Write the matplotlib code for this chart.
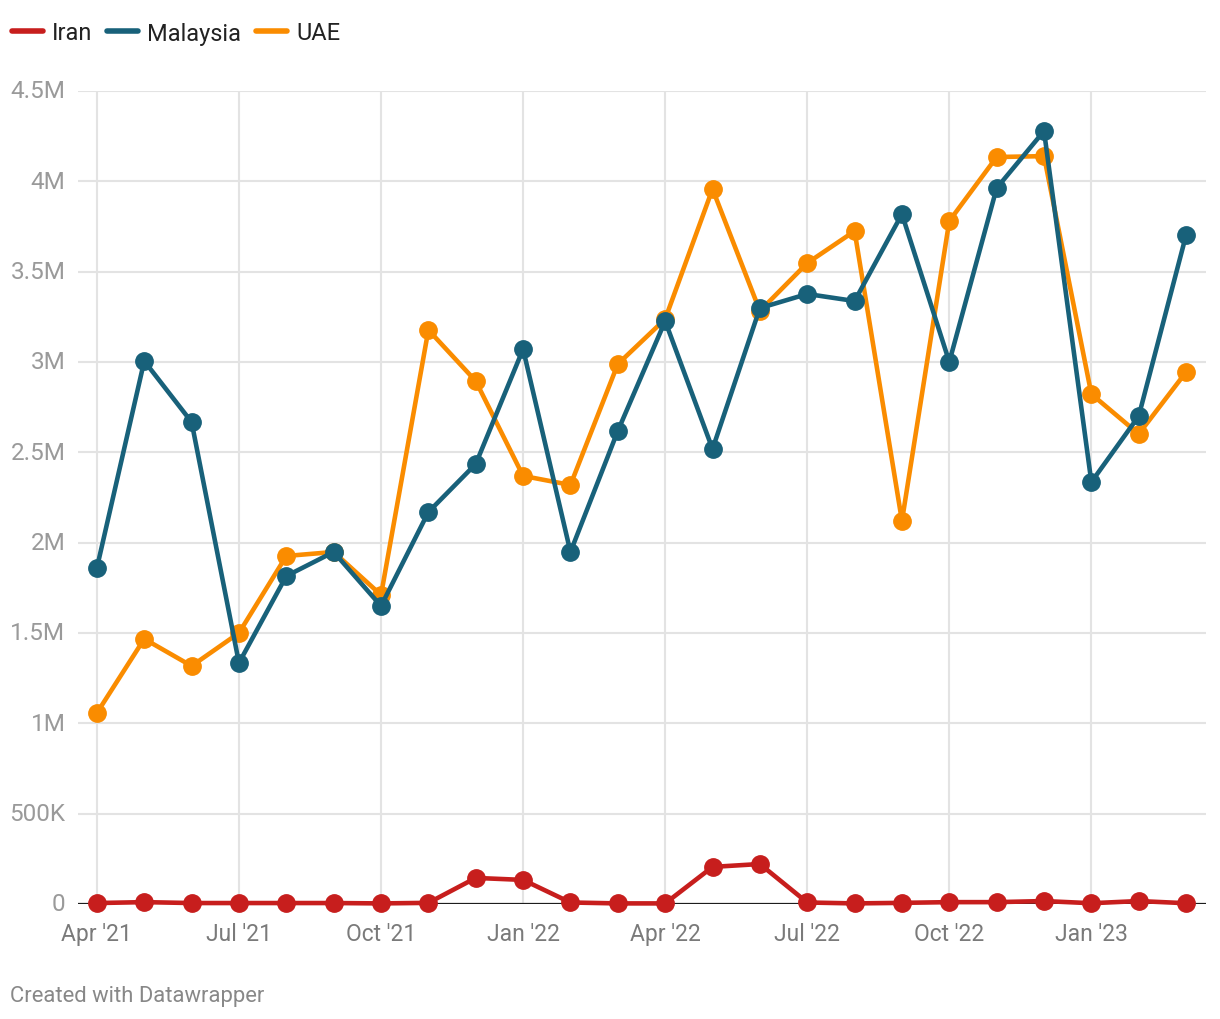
import matplotlib.pyplot as plt
from matplotlib.lines import Line2D

plt.rcParams['font.family'] = ['Roboto', 'DejaVu Sans']

# monthly values, Apr 2021 .. Mar 2023
months = ["Apr '21", "May '21", "Jun '21", "Jul '21", "Aug '21", "Sep '21",
          "Oct '21", "Nov '21", "Dec '21", "Jan '22", "Feb '22", "Mar '22",
          "Apr '22", "May '22", "Jun '22", "Jul '22", "Aug '22", "Sep '22",
          "Oct '22", "Nov '22", "Dec '22", "Jan '23", "Feb '23", "Mar '23"]

iran = [5e3, 10e3, 5e3, 5e3, 5e3, 5e3, 3e3, 6e3, 144e3, 133e3, 8e3, 3e3,
        3e3, 205e3, 221e3, 8e3, 3e3, 6e3, 10e3, 10e3, 16e3, 4e3, 16e3, 4e3]

malaysia = [1.86e6, 3.005e6, 2.667e6, 1.334e6, 1.815e6, 1.948e6, 1.649e6, 2.169e6,
            2.435e6, 3.071e6, 1.948e6, 2.618e6, 3.226e6, 2.518e6, 3.298e6, 3.376e6,
            3.337e6, 3.818e6, 3.0e6, 3.962e6, 4.278e6, 2.335e6, 2.7e6, 3.702e6]

uae = [1.057e6, 1.467e6, 1.317e6, 1.5e6, 1.926e6, 1.948e6, 1.71e6, 3.177e6,
       2.894e6, 2.369e6, 2.319e6, 2.988e6, 3.237e6, 3.957e6, 3.282e6, 3.547e6,
       3.724e6, 2.12e6, 3.78e6, 4.134e6, 4.139e6, 2.822e6, 2.601e6, 2.944e6]

yticks = [0, 500e3, 1e6, 1.5e6, 2e6, 2.5e6, 3e6, 3.5e6, 4e6, 4.5e6]
ylabels = ["0", "500K", "1M", "1.5M", "2M", "2.5M", "3M", "3.5M", "4M", "4.5M"]

series = [("Iran", iran, "#c71e1d"),
          ("UAE", uae, "#fa8c00"),
          ("Malaysia", malaysia, "#18617a")]

fig = plt.figure(figsize=(12.2, 10.2), dpi=100)
ax = fig.add_axes([0.0639, 0.1128, 0.9246, 0.7971])

x = list(range(len(months)))
for z, (name, vals, col) in enumerate(series):
    ax.plot(x, vals, color=col, lw=3.3, marker='o', ms=12.5,
            solid_joinstyle='round', clip_on=False, zorder=3 + z)

ax.set_xlim(-0.4, 23.42)
ax.set_ylim(0, 4.5e6)
ax.set_yticks(yticks)
ax.set_yticklabels(ylabels)
ax.set_xticks(x[::3])
ax.set_xticklabels(months[::3])

for s in ax.spines.values():
    s.set_visible(False)
ax.grid(True, color='#e3e3e3', lw=1.5, zorder=0)
ax.axhline(0, color='#1d1d1d', lw=1.6, zorder=2)
ax.tick_params(axis='y', length=0, pad=9, labelsize=17.5, labelcolor='#9a9a9a')
ax.tick_params(axis='x', length=0, pad=13, labelsize=16.5, labelcolor='#7a7a7a')
for lab in ax.get_yticklabels():
    lab.set_verticalalignment('center')

# legend in Datawrapper order
handles = [Line2D([], [], color=c, lw=4, solid_capstyle='round') for c in
           ["#c71e1d", "#18617a", "#fa8c00"]]
fig.legend(handles, ["Iran", "Malaysia", "UAE"], loc='center left',
           bbox_to_anchor=(12 / 1220, 1 - 34 / 1020), ncol=3, frameon=False,
           fontsize=17, handlelength=1.3, handletextpad=0.38, columnspacing=0.65,
           labelcolor='#222222', borderaxespad=0, borderpad=0)

fig.text(10 / 1220, 1 - 997 / 1020, "Created with Datawrapper", fontsize=15.8,
         color='#888888', va='center')

fig.savefig("out.png", dpi=100, facecolor='white')
